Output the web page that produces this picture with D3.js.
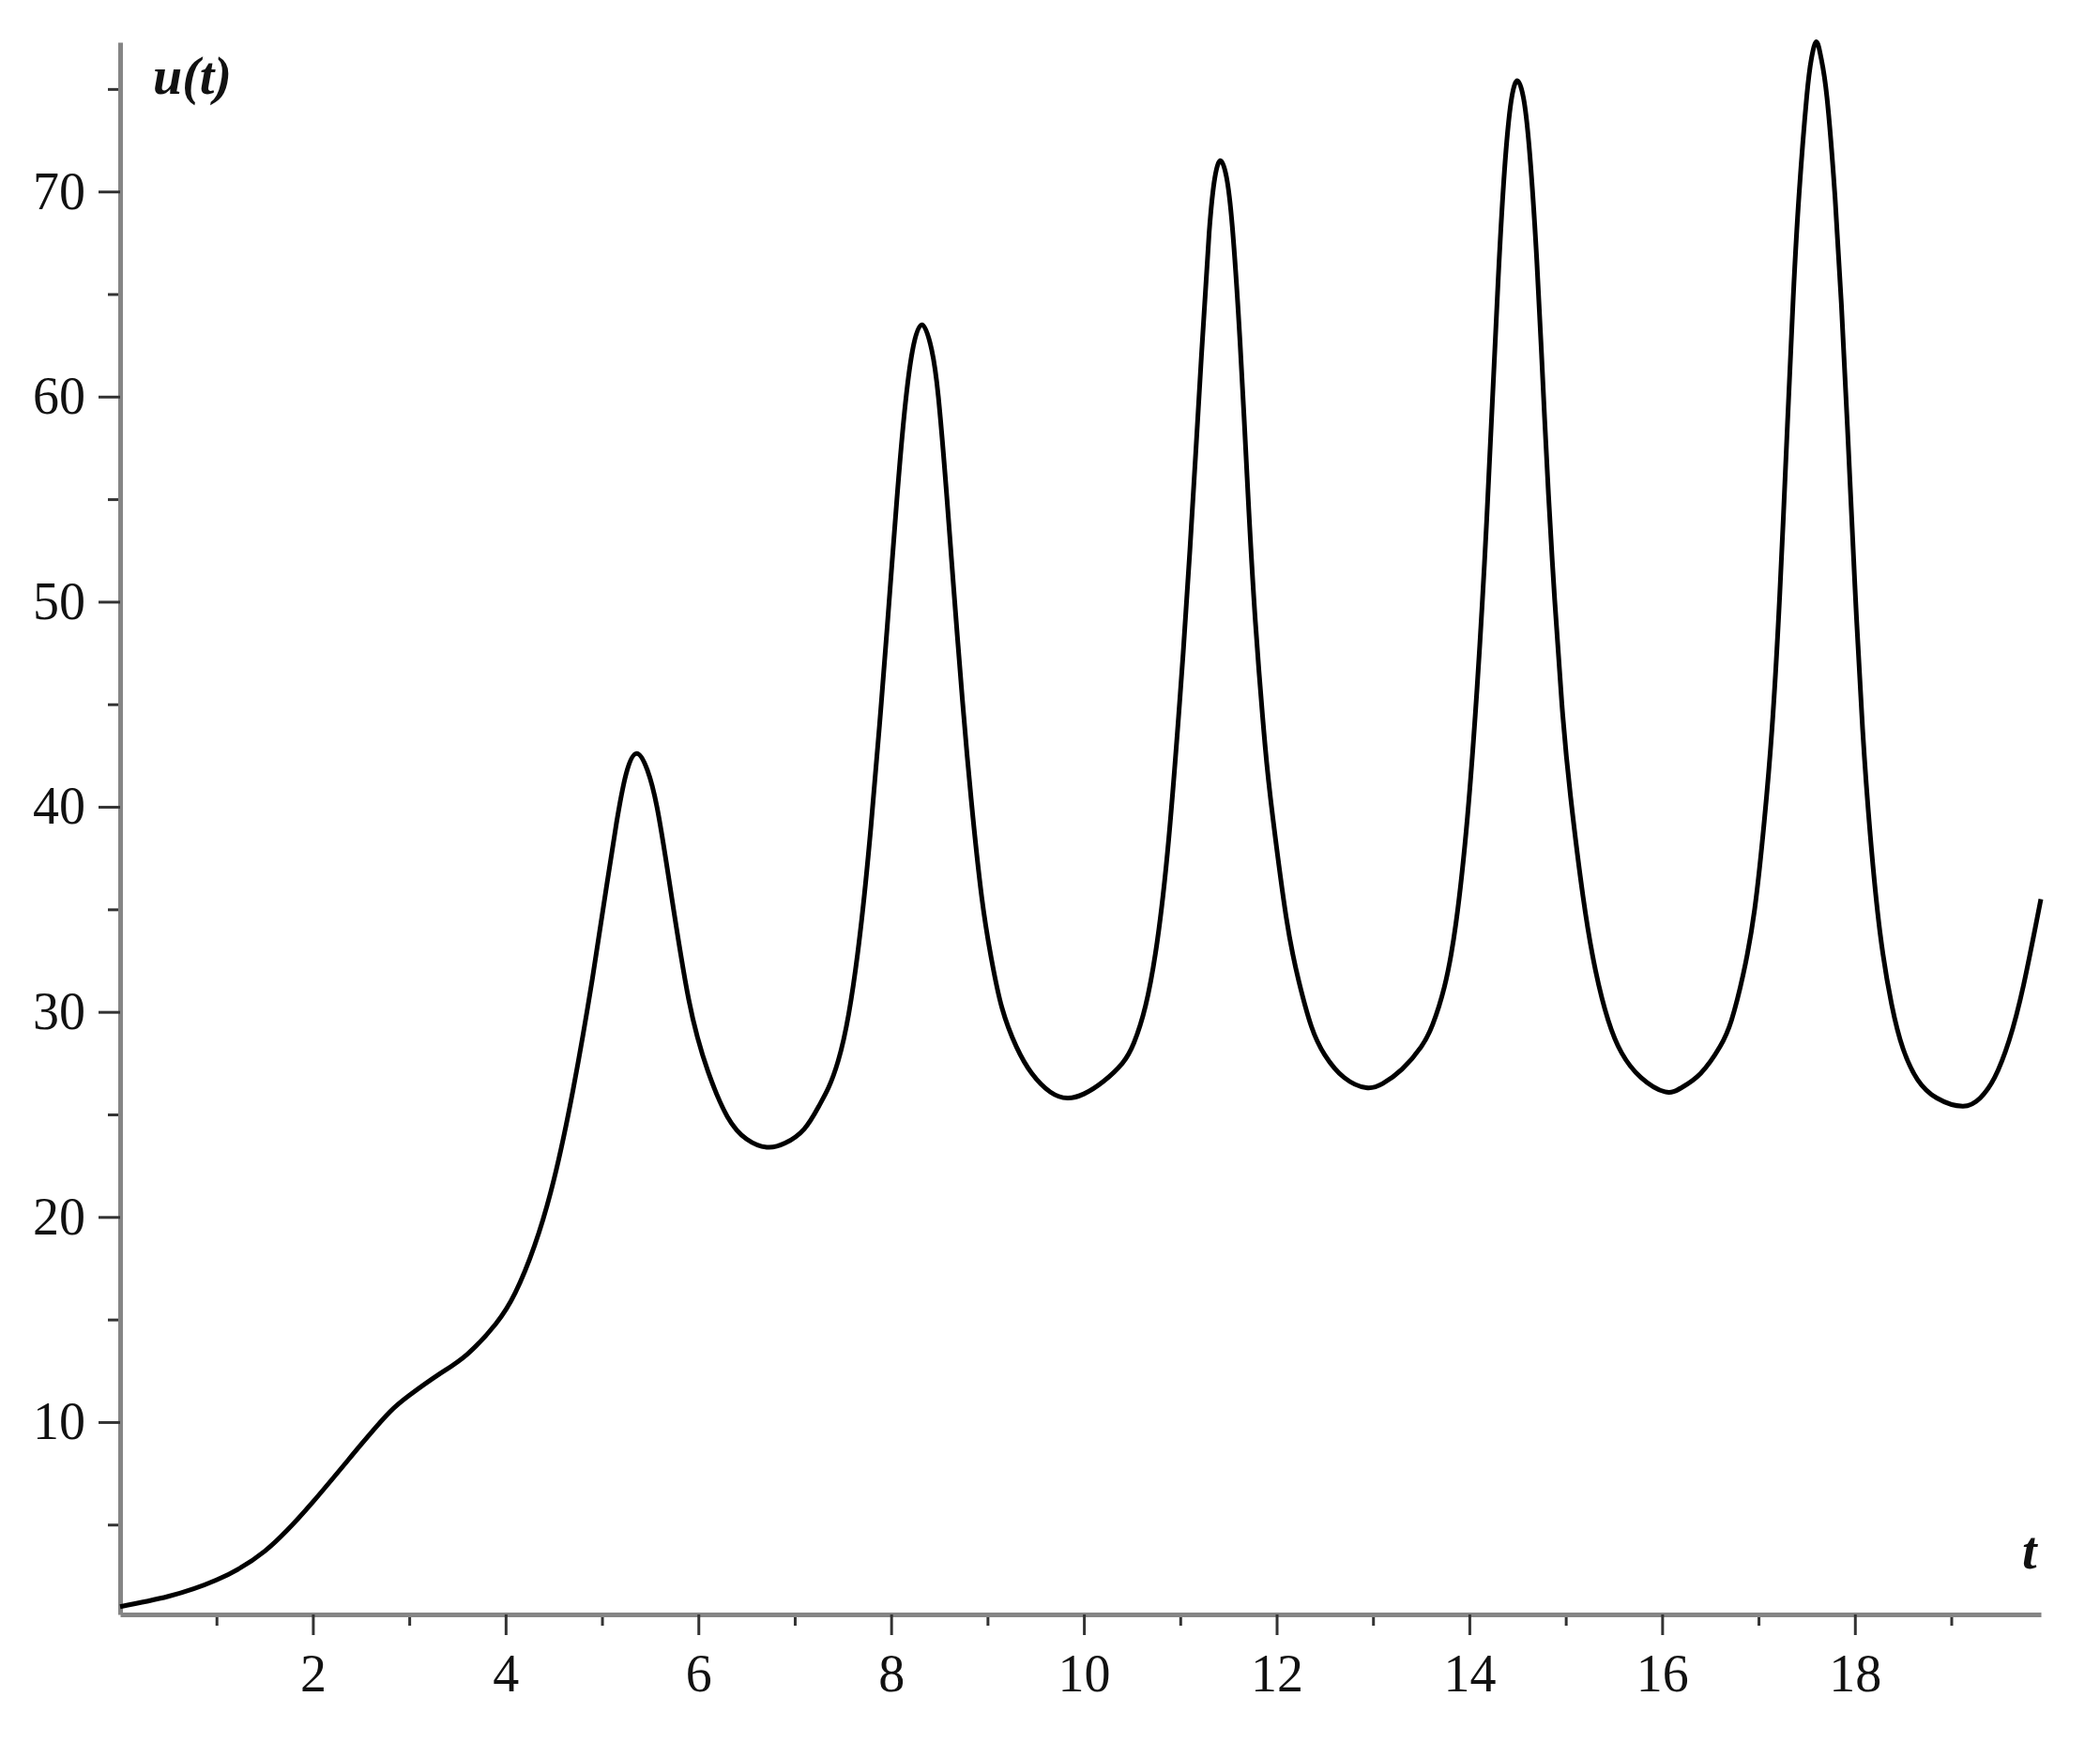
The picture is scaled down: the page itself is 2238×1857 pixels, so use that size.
<!DOCTYPE html>
<html lang="en">
<head>
    <meta charset="UTF-8">
    <title>u(t)</title>
    <script src="https://d3js.org/d3.v7.min.js"></script>
    <style>
        body {
            margin: 0;
            background-color: #ffffff;
            overflow: hidden;
        }
        svg {
            display: block;
        }
        .axis path.domain {
            stroke: #858585;
            stroke-width: 5;
        }
        .axis line {
            stroke: #333333;
            stroke-width: 3;
        }
        .axis text {
            font-family: 'Liberation Serif', 'Times New Roman', serif;
            font-size: 56px;
            fill: #111111;
        }
        .axis-label {
            font-family: 'Liberation Serif', 'Times New Roman', serif;
            font-size: 56px;
            font-weight: bold;
            font-style: italic;
            fill: #111111;
        }
    </style>
</head>
<body>
    <div id="chart"></div>

    <script>
        // Values (t, u(t))
        const tValues = [
            // start, first peak
            0, 0.5, 1.0, 1.5, 2.0, 2.5, 2.8, 3.0, 3.3, 3.6, 3.9, 4.1, 4.3, 4.5, 4.7, 4.9, 5.05, 5.15, 5.25, 5.36,
            5.47, 5.57, 5.7, 5.9, 6.1, 6.3, 6.5, 6.71,
            // second peak
            6.9, 7.1, 7.25, 7.35, 7.45, 7.56, 7.68, 7.79, 7.88, 7.96, 8.06, 8.14, 8.22, 8.32,
            8.42, 8.49, 8.57, 8.65, 8.74, 8.83, 8.94, 9.04, 9.15, 9.3, 9.46, 9.65, 9.83,
            // third peak
            10.0, 10.2, 10.4, 10.52, 10.64, 10.76, 10.88, 11.0, 11.1, 11.22, 11.3, 11.36, 11.42,
            11.48, 11.54, 11.62, 11.7, 11.78, 11.88, 11.96, 12.1, 12.23, 12.36, 12.5, 12.7, 12.93,
            // fourth peak
            13.1, 13.3, 13.5, 13.62, 13.74, 13.86, 13.98, 14.08, 14.18, 14.3, 14.38, 14.44, 14.5,
            14.56, 14.62, 14.7, 14.78, 14.86, 14.96, 15.05, 15.18, 15.31, 15.44, 15.58, 15.78, 16.03,
            // fifth peak
            16.2, 16.4, 16.6, 16.72, 16.84, 16.96, 17.06, 17.14, 17.22, 17.3, 17.36, 17.42, 17.5, 17.55, 17.6,
            17.65, 17.71, 17.79, 17.86, 17.93, 18.0, 18.08, 18.16, 18.26, 18.38, 18.5, 18.65, 18.85, 19.12,
            19.3, 19.45, 19.6, 19.75, 19.93
        ];
        const uValues = [
            1.0, 1.5, 2.3, 3.7, 6.1, 8.9, 10.5, 11.3, 12.3, 13.3, 14.8, 16.3, 18.6, 21.8, 26.2, 31.6, 36.2, 39.2, 41.6, 42.6,
            41.8, 40.0, 36.3, 30.6, 27.1, 24.9, 23.8, 23.4,
            23.6, 24.3, 25.4, 26.3, 27.6, 29.9, 33.9, 39.0, 44.0, 48.8, 55.0, 59.3, 62.2, 63.5,
            62.3, 60.0, 55.6, 50.6, 45.2, 40.4, 35.6, 32.6, 30.2, 28.3, 27.0, 26.1, 25.8,
            26.0, 26.6, 27.5, 28.5, 30.3, 33.4, 38.4, 45.5, 52.5, 62.0, 68.0, 70.7, 71.5,
            70.7, 68.3, 62.7, 55.5, 49.0, 43.0, 39.5, 34.6, 31.5, 29.3, 27.9, 26.8, 26.3,
            26.5, 27.2, 28.3, 29.4, 31.2, 34.3, 39.5, 45.8, 54.0, 65.8, 72.0, 74.6, 75.4,
            74.6, 72.2, 66.6, 59.0, 52.0, 45.0, 40.5, 35.6, 32.0, 29.6, 28.0, 26.8, 26.1,
            26.3, 27.0, 28.3, 29.6, 31.8, 35.0, 39.3, 43.8, 50.3, 58.6, 64.8, 69.8, 74.6, 76.5, 77.3,
            76.5, 74.6, 70.0, 64.5, 57.8, 50.8, 43.8, 38.6, 33.9, 30.4, 28.2, 26.7, 25.8, 25.4,
            25.8, 26.8, 28.6, 31.3, 35.5
        ];

        const xMajorTicks = [2, 4, 6, 8, 10, 12, 14, 16, 18];
        const xMinorTicks = [1, 3, 5, 7, 9, 11, 13, 15, 17, 19];
        const yMajorTicks = [10, 20, 30, 40, 50, 60, 70];
        const yMinorTicks = [5, 15, 25, 35, 45, 55, 65, 75];

        const xLabel = "t";
        const yLabel = "u(t)";

        const width = 2238;
        const height = 1857;
        const margin = { top: 45, right: 63, bottom: 136, left: 128 };

        const svg = d3.select("#chart")
            .append("svg")
            .attr("width", width)
            .attr("height", height);

        const x = d3.scaleLinear()
            .domain([0, 19.93])
            .range([margin.left, width - margin.right]);

        const y = d3.scaleLinear()
            .domain([0.62, 77.28])
            .range([height - margin.bottom, margin.top]);

        const data = tValues.map((t, i) => ({ t: t, u: uValues[i] }));

        // minor ticks first (no labels)
        svg.append("g")
            .attr("class", "axis")
            .attr("transform", `translate(0,${height - margin.bottom})`)
            .call(d3.axisBottom(x).tickValues(xMinorTicks).tickSize(12).tickFormat(""))
            .call(g => g.select(".domain").remove());

        svg.append("g")
            .attr("class", "axis")
            .attr("transform", `translate(${margin.left},0)`)
            .call(d3.axisLeft(y).tickValues(yMinorTicks).tickSize(13).tickFormat(""))
            .call(g => g.select(".domain").remove());

        // major ticks + axis lines
        svg.append("g")
            .attr("class", "axis")
            .attr("transform", `translate(0,${height - margin.bottom})`)
            .call(d3.axisBottom(x).tickValues(xMajorTicks).tickSize(22).tickSizeOuter(0).tickPadding(20));

        svg.append("g")
            .attr("class", "axis")
            .attr("transform", `translate(${margin.left},0)`)
            .call(d3.axisLeft(y).tickValues(yMajorTicks).tickSize(23).tickSizeOuter(0).tickPadding(14));

        // the curve
        const line = d3.line()
            .x(d => x(d.t))
            .y(d => y(d.u))
            .curve(d3.curveNatural);

        svg.append("path")
            .datum(data)
            .attr("fill", "none")
            .attr("stroke", "#000000")
            .attr("stroke-width", 5)
            .attr("stroke-linejoin", "round")
            .attr("d", line);

        // axis labels
        svg.append("text")
            .attr("class", "axis-label")
            .attr("x", margin.left + 35)
            .attr("y", 100)
            .text(yLabel);

        svg.append("text")
            .attr("class", "axis-label")
            .attr("x", width - margin.right - 20)
            .attr("y", 1672)
            .text(xLabel);
    </script>
</body>
</html>
